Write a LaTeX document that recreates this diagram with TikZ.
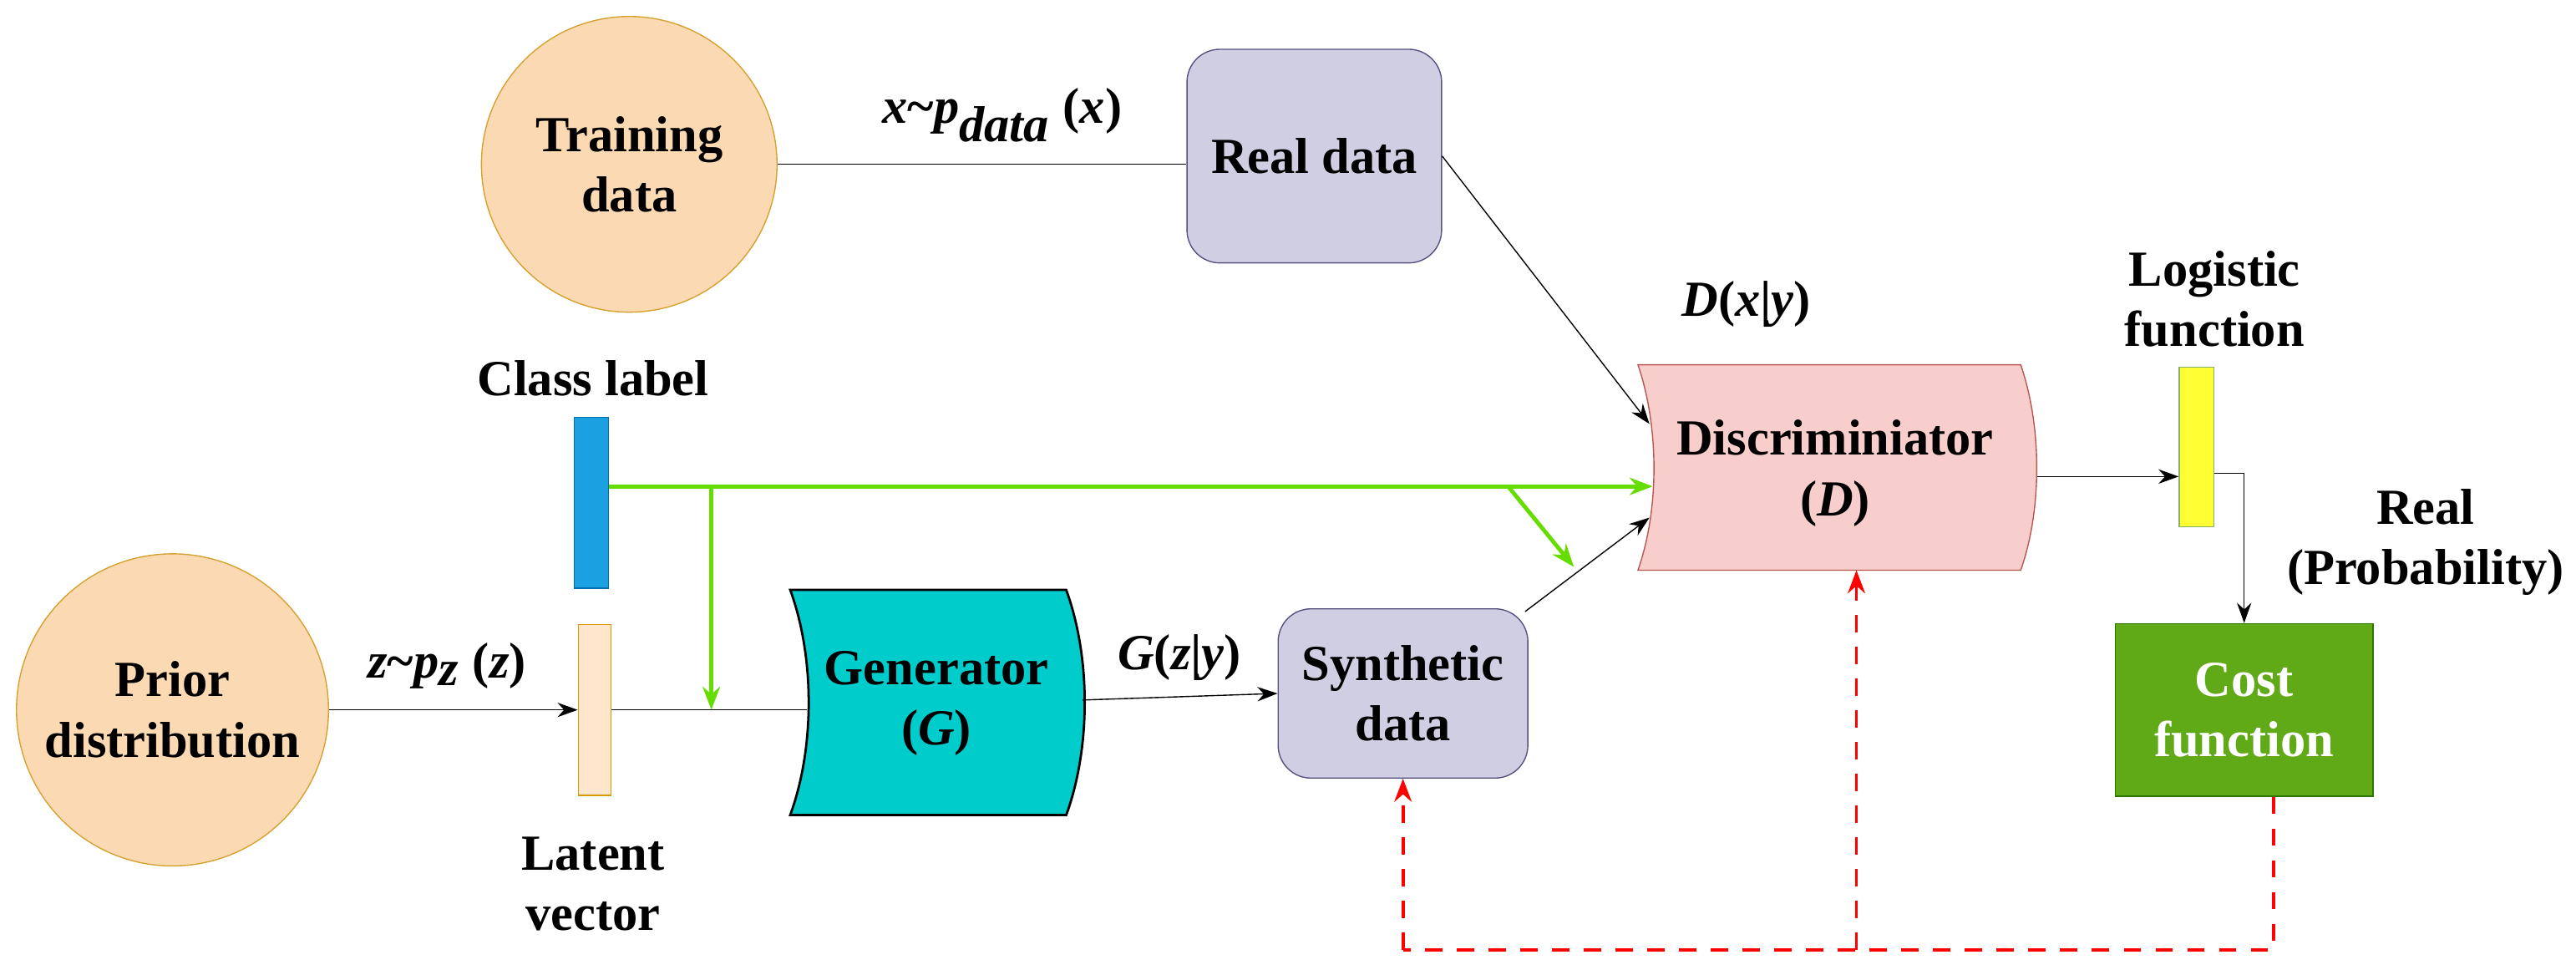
\documentclass[tikz,border=0pt]{standalone}
\usepackage{fontspec}
\setmainfont{Liberation Serif}
\usetikzlibrary{arrows.meta}
\definecolor{purp}{HTML}{D0CEE2}\definecolor{purpd}{HTML}{56517E}
\definecolor{peach}{HTML}{FAD9B3}\definecolor{peachd}{HTML}{D6A12E}
\definecolor{pinkf}{HTML}{F8CECC}\definecolor{pinkd}{HTML}{B85450}
\definecolor{cyanf}{HTML}{00CCCC}\definecolor{grn}{HTML}{60A917}\definecolor{grnd}{HTML}{2D7600}
\definecolor{blu}{HTML}{1BA1E2}\definecolor{blud}{HTML}{006EAF}
\definecolor{lat}{HTML}{FFE6CC}\definecolor{latd}{HTML}{D79B00}
\definecolor{yel}{HTML}{FFFF33}\definecolor{yeld}{HTML}{82B366}
\definecolor{lg}{HTML}{66DD00}
\newcommand{\tld}{\char"7E}
\begin{document}
\begin{tikzpicture}[x=0.02cm,y=-0.02cm,
  txt/.style={font=\fontsize{17.5}{21}\selectfont\bfseries,align=center},
  circ/.style={circle,draw=peachd,fill=peach,minimum size=#1*0.04cm,inner sep=0pt},
  rbox/.style={draw=purpd,fill=purp,rounded corners=0.4cm},
  arr/.style={-{Stealth[length=7pt,width=5pt]},black},
  garr/.style={-{Stealth[length=8pt,width=6pt]},lg,line width=1.4pt},
  rarr/.style={-{Stealth[length=8pt,width=6pt]},red,dashed,line width=1.1pt,dash pattern=on 6pt off 5pt}]
\useasboundingbox (0,0) rectangle (1568,590);
% nodes
\node[circ=90,txt] (train) at (383,100) {Training\\data};
\node[circ=95,txt] (prior) at (105,432) {Prior\\distribution};
\node[rbox,minimum width=155*0.02cm,minimum height=130*0.02cm,txt] (real) at (800,95) {Real data};
\node[rbox,minimum width=152*0.02cm,minimum height=103*0.02cm,txt] (syn) at (854,422) {Synthetic\\data};
\node[draw=blud,fill=blu,minimum width=21*0.02cm,minimum height=104*0.02cm,inner sep=0pt] (cls) at (360,306) {};
\node[draw=latd,fill=lat,minimum width=20*0.02cm,minimum height=104*0.02cm,inner sep=0pt] (lat) at (362,432) {};
\node[draw=yeld,fill=yel,minimum width=21*0.02cm,minimum height=97*0.02cm,inner sep=0pt] (yel) at (1337,272) {};
\node[draw=grnd,fill=grn,minimum width=157*0.02cm,minimum height=105*0.02cm,txt,text=white] (cost) at (1366,432) {Cost\\function};
% generator shape
\filldraw[fill=cyanf,draw=black,line width=0.8pt] (481,359) -- (649,359) .. controls (664,400) and (664,455) .. (649,496) -- (481,496) .. controls (496,455) and (496,400) .. (481,359) -- cycle;
\node[txt] (gen) at (570,428) {Generator\\(\textit{G})};
\coordinate (genL) at (491,432); \coordinate (genR) at (659,426);
% discriminator shape
\filldraw[fill=pinkf,draw=pinkd] (997,222) -- (1230,222) .. controls (1243,260) and (1243,310) .. (1230,347) -- (997,347) .. controls (1010,310) and (1010,260) .. (997,222) -- cycle;
\node[txt] (disc) at (1117,288) {Discriminiator\\(\textit{D})};
\coordinate (discL1) at (1004,258); \coordinate (discL2) at (1006,296); \coordinate (discL3) at (1004,315);
\coordinate (discR) at (1240,290); \coordinate (discB) at (1130,347);
% labels
\node[txt] (lx) at (610,70) {\textit{x}\tld\textit{p}$_{\textbf{\textit{data}}}$ (\textit{x})};
\node[txt] (lz) at (272,405) {\textit{z}\tld\textit{p}$_{\textbf{\textit{z}}}$ (\textit{z})};
\node[txt] (lg) at (718,400) {\textit{G}(\textit{z}|\textit{y})};
\node[txt] (ld) at (1063,185) {\textit{D}(\textit{x}|\textit{y})};
\node[txt] (lcl) at (361,230) {Class label};
\node[txt] (llat) at (361,538) {Latent\\vector};
\node[txt] (llog) at (1348,182) {Logistic\\function};
\node[txt,inner sep=0pt,anchor=east] (lreal) at (1561,330) {Real\\(Probability)};
% connectors
\draw (train.east) -- (real.west |- train.east);
\draw[arr] (real.east) -- (discL1);
\draw[arr] (prior.east) -- (lat.west);
\draw (lat.east) -- (genL);
\draw[arr] (genR) -- (syn.west);
\draw[arr] (syn.north east) ++(-2,2) -- (discL3);
\draw[arr] (discR) -- (yel.west |- discR);
\draw[arr] (yel.east |- 0,288) -- (1366,288) -- (cost.north);
\coordinate (g1) at (433,296); \coordinate (g2) at (918,296); \coordinate (g3) at (958,345);
\draw[garr] (cls.east |- g1) -- (discL2);
\draw[garr] (g1) -- (433,432);
\draw[garr] (g2) -- (g3);
\coordinate (r1) at (1384,578); \coordinate (r2) at (1130,578); \coordinate (r3) at (854,578);
\draw[red,dashed,line width=1.1pt,dash pattern=on 6pt off 5pt] (cost.south -| r1) -- (r1) -- (r3);
\draw[rarr] (r3) -- (syn.south);
\draw[rarr] (r2) -- (discB);
\end{tikzpicture}
\end{document}
